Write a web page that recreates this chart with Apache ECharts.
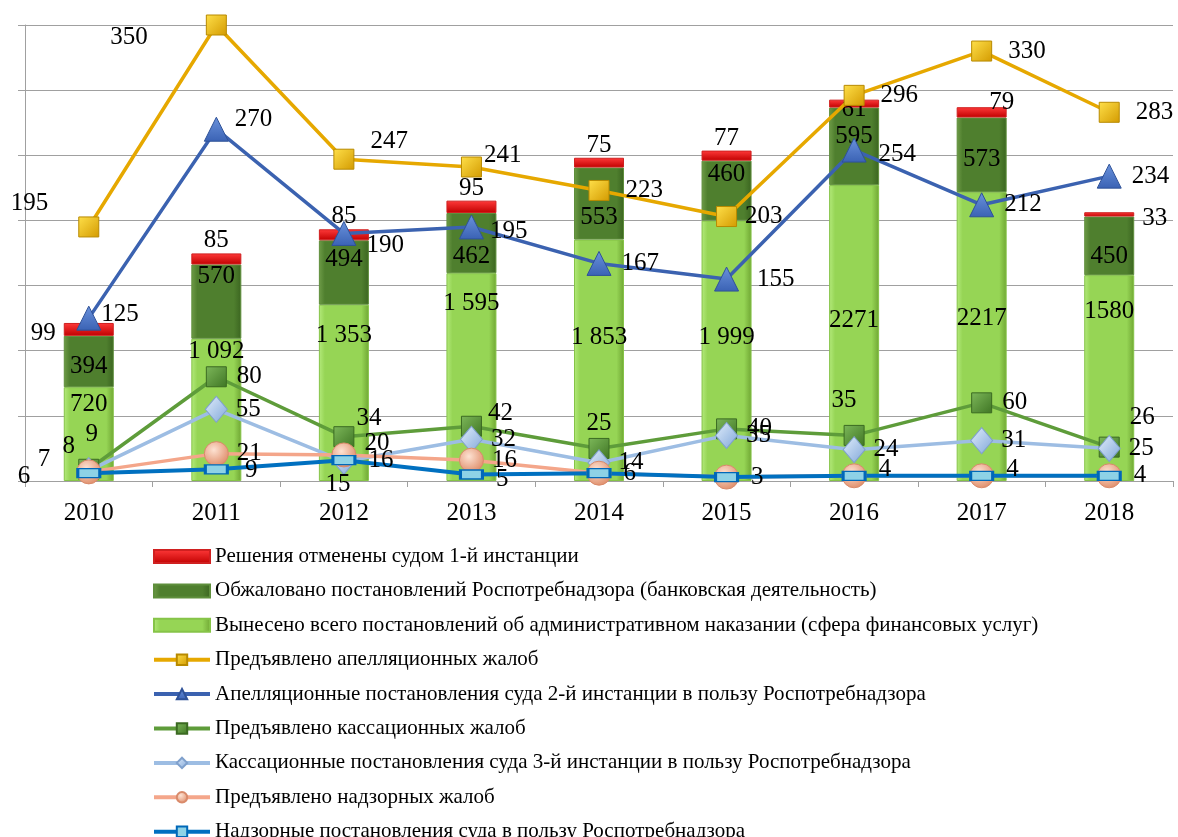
<!DOCTYPE html>
<html>
<head>
<meta charset="utf-8">
<script src="https://cdn.jsdelivr.net/npm/echarts@6/dist/echarts.min.js"></script>
<style>
    html, body { margin: 0; padding: 0; background: #fff; overflow: hidden; }
    #chart { width: 1178px; height: 837px; }
</style>
</head>
<body>
<div id="chart"></div>
<script>
var years = ['2010', '2011', '2012', '2013', '2014', '2015', '2016', '2017', '2018'];

// bars (left axis)
var overturned = [99, 85, 85, 95, 75, 77, 61, 79, 33];
var appealed = [394, 570, 494, 462, 553, 460, 595, 573, 450];
var issued = [720, 1092, 1353, 1595, 1853, 1999, 2271, 2217, 1580];

// lines (right axis)
var appealComplaints = [195, 350, 247, 241, 223, 203, 296, 330, 283];
var appealRulings = [125, 270, 190, 195, 167, 155, 254, 212, 234];
var cassComplaints = [9, 80, 34, 42, 25, 40, 35, 60, 26];
var cassRulings = [8, 55, 15, 32, 14, 35, 24, 31, 25];
var supervComplaints = [7, 21, 20, 16, 6, 3, 4, 4, 4];
var supervRulings = [6, 9, 16, 5, 6, 3, 4, 4, 4];

var names = [
    'Решения отменены судом 1-й инстанции',
    'Обжаловано постановлений Роспотребнадзора (банковская деятельность)',
    'Вынесено всего постановлений об административном наказании (сфера финансовых услуг)',
    'Предъявлено апелляционных жалоб',
    'Апелляционные постановления суда 2-й инстанции в пользу Роспотребнадзора',
    'Предъявлено кассационных жалоб',
    'Кассационные постановления суда 3-й инстанции в пользу Роспотребнадзора',
    'Предъявлено надзорных жалоб',
    'Надзорные постановления суда в пользу Роспотребнадзора'
];

// label nudges (pixels) for the bar segments, as placed in the original
var issuedLabelShift = [0, -5, 13, 13, 80, 99, 118, 109, 19];
var appealedLabelShift = [5, -25, -13, 13, 14, -16, -10, 5, 11];

var FONT = 'Liberation Serif';
var labelBase = { show: true, fontFamily: FONT, fontSize: 25, color: '#000' };

function withLabels(values, overrides) {
    return values.map(function (v, i) {
        if (overrides && overrides[i]) {
            return { value: v, label: overrides[i] };
        }
        return v;
    });
}

function hGrad(edge, mid, dark) {
    return new echarts.graphic.LinearGradient(0, 0, 1, 0, [
        { offset: 0, color: edge },
        { offset: 0.12, color: mid },
        { offset: 0.85, color: mid },
        { offset: 1, color: dark }
    ]);
}

function vGrad(top, bottom) {
    return new echarts.graphic.LinearGradient(0, 0, 0, 1, [
        { offset: 0, color: top },
        { offset: 1, color: bottom }
    ]);
}

function spaced(n) {
    return String(n).replace(/\B(?=(\d{3})+(?!\d))/g, ' ');
}

var chart = echarts.init(document.getElementById('chart'));

var legendData = names.map(function (n, i) {
    return i < 3 ? { name: n, icon: 'rect' } : { name: n };
});

var option = {
    animation: false,
    textStyle: { fontFamily: FONT },
    grid: { left: 25, right: 5, top: 25, bottom: 356, containLabel: false },
    legend: {
        orient: 'vertical',
        left: 147,
        top: 541,
        height: 400,
        itemWidth: 56,
        itemHeight: 13,
        itemGap: 13.4,
        lineStyle: { width: 4 },
        textStyle: { fontFamily: FONT, fontSize: 21, color: '#000', lineHeight: 21 },
        data: legendData
    },
    xAxis: {
        type: 'category',
        data: years,
        axisLine: { lineStyle: { color: '#a0a0a0', width: 1 } },
        axisTick: { show: true, length: 6, lineStyle: { color: '#a0a0a0' } },
        axisLabel: { fontFamily: FONT, fontSize: 25, color: '#000', margin: 20 }
    },
    yAxis: [
        {
            type: 'value',
            min: 0,
            max: 3500,
            interval: 500,
            axisLabel: { show: false },
            axisLine: { show: true, lineStyle: { color: '#a0a0a0' } },
            axisTick: { show: true, length: 7, lineStyle: { color: '#a0a0a0' } },
            splitLine: { lineStyle: { color: '#a0a0a0', width: 1 } }
        },
        {
            type: 'value',
            min: 0,
            max: 350,
            interval: 50,
            axisLabel: { show: false },
            axisLine: { show: false },
            axisTick: { show: false },
            splitLine: { show: false }
        }
    ],
    series: [
        {
            name: names[2],
            type: 'bar',
            stack: 'total',
            barWidth: 50,
            itemStyle: {
                color: hGrad('#b4ea7c', '#96d555', '#6fa633'),
                borderColor: '#86c448',
                borderWidth: 1
            },
            label: Object.assign({}, labelBase, {
                position: 'insideTop',
                formatter: function (p) {
                    return p.dataIndex >= 1 && p.dataIndex <= 5 ? spaced(p.value) : String(p.value);
                }
            }),
            data: issued.map(function (v, i) {
                return { value: v, label: { offset: [0, issuedLabelShift[i]] } };
            })
        },
        {
            name: names[1],
            type: 'bar',
            stack: 'total',
            barWidth: 50,
            itemStyle: {
                color: hGrad('#6f9c48', '#4f7f2e', '#3b6520'),
                borderColor: '#5f8f3c',
                borderWidth: 1
            },
            label: Object.assign({}, labelBase, { position: 'inside' }),
            data: appealed.map(function (v, i) {
                return { value: v, label: { offset: [0, appealedLabelShift[i]] } };
            })
        },
        {
            name: names[0],
            type: 'bar',
            stack: 'total',
            barWidth: 50,
            itemStyle: {
                color: vGrad('#ff3a3a', '#c00000'),
                borderColor: '#d02020',
                borderWidth: 1
            },
            label: Object.assign({}, labelBase, { position: 'top', distance: 0 }),
            data: withLabels(overturned, {
                0: { position: 'left', distance: 8, offset: [0, 4] },
                6: { position: 'top', offset: [0, 22] },
                7: { position: 'top', offset: [20, 8] },
                8: { position: 'right', distance: 8, offset: [0, 4] }
            })
        },
        {
            name: names[3],
            type: 'line',
            yAxisIndex: 1,
            symbol: 'rect',
            symbolSize: 20,
            lineStyle: { color: '#e6a800', width: 3.5 },
            itemStyle: {
                color: new echarts.graphic.LinearGradient(0, 0, 1, 1, [
                    { offset: 0, color: '#ffe04a' },
                    { offset: 1, color: '#d39a00' }
                ]),
                borderColor: '#b88a00',
                borderWidth: 1
            },
            label: Object.assign({}, labelBase, { position: 'right', distance: 16 }),
            data: withLabels(appealComplaints, {
                0: { position: 'left', distance: 18, offset: [-12, -24] },
                1: { position: 'left', distance: 18, offset: [-40, 12] },
                2: { offset: [0, -18] },
                3: { offset: [-14, -12] },
                5: { offset: [-8, 0] }
            })
        },
        {
            name: names[4],
            type: 'line',
            yAxisIndex: 1,
            symbol: 'triangle',
            symbolSize: 24,
            lineStyle: { color: '#3b62b0', width: 3.5 },
            itemStyle: {
                color: vGrad('#6a92dc', '#3a62b4'),
                borderColor: '#2f5298',
                borderWidth: 1
            },
            label: Object.assign({}, labelBase, { position: 'right', distance: 10 }),
            data: withLabels(appealRulings, {
                0: { offset: [-10, -4] },
                1: { offset: [-4, -10] },
                2: { offset: [0, 12] },
                3: { offset: [-4, 4] },
                5: { offset: [8, 0] },
                6: { offset: [2, 4] }
            })
        },
        {
            name: names[5],
            type: 'line',
            yAxisIndex: 1,
            symbol: 'rect',
            symbolSize: 20,
            lineStyle: { color: '#5e9c3a', width: 3.5 },
            itemStyle: {
                color: new echarts.graphic.LinearGradient(0, 0, 1, 1, [
                    { offset: 0, color: '#7db85a' },
                    { offset: 1, color: '#3f7524' }
                ]),
                borderColor: '#3b6a22',
                borderWidth: 1
            },
            label: Object.assign({}, labelBase, { position: 'right', distance: 10 }),
            data: withLabels(cassComplaints, {
                0: { position: 'top', offset: [3, -2] },
                2: { offset: [-8, -18] },
                3: { offset: [-4, -13] },
                4: { position: 'top', offset: [0, 8] },
                6: { position: 'top', offset: [-10, -2] },
                8: { offset: [0, -30] }
            })
        },
        {
            name: names[6],
            type: 'line',
            yAxisIndex: 1,
            symbol: 'diamond',
            symbolSize: [22, 26],
            lineStyle: { color: '#9dbde3', width: 3.5 },
            itemStyle: {
                color: new echarts.graphic.LinearGradient(0, 0, 1, 1, [
                    { offset: 0, color: '#e2eefc' },
                    { offset: 1, color: '#7fa6d8' }
                ]),
                borderColor: '#7fa0cc',
                borderWidth: 1
            },
            label: Object.assign({}, labelBase, { position: 'right', distance: 8 }),
            data: withLabels(cassRulings, {
                0: { position: 'top', offset: [-20, 10] },
                2: { position: 'bottom', offset: [-6, -11] }
            })
        },
        {
            name: names[7],
            type: 'line',
            yAxisIndex: 1,
            symbol: 'circle',
            symbolSize: 24,
            lineStyle: { color: '#f4a68a', width: 3.5 },
            itemStyle: {
                color: new echarts.graphic.RadialGradient(0.4, 0.35, 0.7, [
                    { offset: 0, color: '#fde2d2' },
                    { offset: 1, color: '#de8a66' }
                ]),
                borderColor: '#d98a6a',
                borderWidth: 1
            },
            label: Object.assign({}, labelBase, { position: 'right', distance: 8 }),
            data: withLabels(supervComplaints, {
                0: { position: 'left', distance: 10, offset: [-16, -12] },
                2: { offset: [0, -12] },
                4: { show: false },
                5: { show: false },
                6: { show: false },
                7: { show: false },
                8: { show: false }
            })
        },
        {
            name: names[8],
            type: 'line',
            yAxisIndex: 1,
            symbol: 'rect',
            symbolSize: [22, 9],
            lineStyle: { color: '#0070c0', width: 4 },
            itemStyle: {
                color: '#8ed2e6',
                borderColor: '#0068b8',
                borderWidth: 2
            },
            label: Object.assign({}, labelBase, { position: 'right', distance: 12 }),
            data: withLabels(supervRulings, {
                0: { position: 'left', distance: 10, offset: [-36, 3] },
                1: { offset: [4, 1] },
                3: { offset: [0, 5] },
                6: { offset: [0, -6] },
                7: { offset: [0, -6] }
            })
        }
    ]
};

chart.setOption(option);
</script>
</body>
</html>
